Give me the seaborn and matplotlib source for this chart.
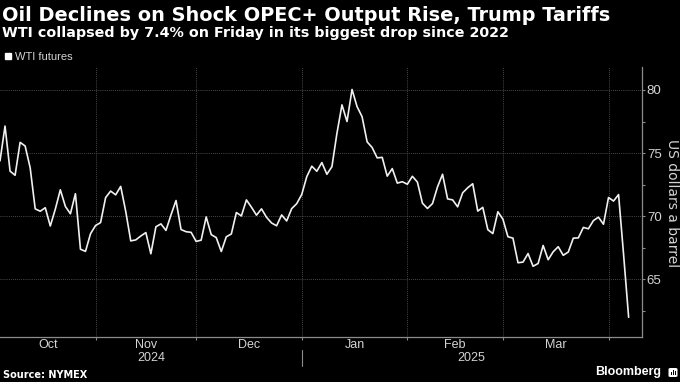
import numpy as np
import pandas as pd
import matplotlib
matplotlib.use('Agg')
import matplotlib.pyplot as plt
import matplotlib.transforms as mtransforms
from matplotlib.lines import Line2D
from matplotlib.patches import FancyBboxPatch, Rectangle
import seaborn as sns

# WTI front-month settlements, one point per trading day
dates = [
    '2024-10-04', '2024-10-07', '2024-10-08', '2024-10-09', '2024-10-10', '2024-10-11', '2024-10-14',
    '2024-10-15', '2024-10-16', '2024-10-17', '2024-10-18', '2024-10-21', '2024-10-22', '2024-10-23',
    '2024-10-24', '2024-10-25', '2024-10-28', '2024-10-29', '2024-10-30', '2024-10-31',
    '2024-11-01', '2024-11-04', '2024-11-05', '2024-11-06', '2024-11-07', '2024-11-08', '2024-11-11',
    '2024-11-12', '2024-11-13', '2024-11-14', '2024-11-15', '2024-11-18', '2024-11-19', '2024-11-20',
    '2024-11-21', '2024-11-22', '2024-11-25', '2024-11-26', '2024-11-27', '2024-11-29',
    '2024-12-02', '2024-12-03', '2024-12-04', '2024-12-05', '2024-12-06', '2024-12-09', '2024-12-10',
    '2024-12-11', '2024-12-12', '2024-12-13', '2024-12-16', '2024-12-17', '2024-12-18', '2024-12-19',
    '2024-12-20', '2024-12-23', '2024-12-24', '2024-12-26', '2024-12-27', '2024-12-30', '2024-12-31',
    '2025-01-02', '2025-01-03', '2025-01-06', '2025-01-07', '2025-01-08', '2025-01-09', '2025-01-10',
    '2025-01-13', '2025-01-14', '2025-01-15', '2025-01-16', '2025-01-17', '2025-01-21', '2025-01-22',
    '2025-01-23', '2025-01-24', '2025-01-27', '2025-01-28', '2025-01-29', '2025-01-30', '2025-01-31',
    '2025-02-03', '2025-02-04', '2025-02-05', '2025-02-06', '2025-02-07', '2025-02-10', '2025-02-11',
    '2025-02-12', '2025-02-13', '2025-02-14', '2025-02-18', '2025-02-19', '2025-02-20', '2025-02-21',
    '2025-02-24', '2025-02-25', '2025-02-26', '2025-02-27', '2025-02-28',
    '2025-03-03', '2025-03-04', '2025-03-05', '2025-03-06', '2025-03-07', '2025-03-10', '2025-03-11',
    '2025-03-12', '2025-03-13', '2025-03-14', '2025-03-17', '2025-03-18', '2025-03-19', '2025-03-20',
    '2025-03-21', '2025-03-24', '2025-03-25', '2025-03-26', '2025-03-27', '2025-03-28', '2025-03-31',
    '2025-04-01', '2025-04-02', '2025-04-03', '2025-04-04',
]
wti = [
    74.38, 77.14, 73.57, 73.24, 75.85, 75.56, 73.83,
    70.58, 70.39, 70.67, 69.22, 70.56, 72.09, 70.77,
    70.19, 71.78, 67.38, 67.21, 68.61, 69.26,
    69.49, 71.47, 71.99, 71.69, 72.36, 70.38, 68.04,
    68.12, 68.43, 68.70, 67.02, 69.16, 69.39, 68.87,
    70.10, 71.24, 68.94, 68.77, 68.72, 68.00,
    68.10, 69.94, 68.54, 68.30, 67.20, 68.37, 68.59,
    70.29, 70.02, 71.29, 70.71, 70.08, 70.58, 69.91,
    69.46, 69.24, 70.10, 69.62, 70.60, 70.99, 71.72,
    73.13, 73.96, 73.56, 74.25, 73.32, 73.92, 76.57,
    78.82, 77.50, 80.04, 78.68, 77.88, 75.89, 75.44,
    74.62, 74.66, 73.17, 73.77, 72.62, 72.73, 72.53,
    73.16, 72.70, 71.03, 70.61, 71.00, 72.32, 73.32,
    71.37, 71.29, 70.74, 71.85, 72.25, 72.57, 70.40,
    70.70, 68.93, 68.62, 70.35, 69.76,
    68.37, 68.26, 66.31, 66.36, 67.04, 66.03, 66.25,
    67.68, 66.55, 67.18, 67.58, 66.90, 67.16, 68.26,
    68.28, 69.11, 69.00, 69.65, 69.92, 69.36, 71.48,
    71.20, 71.71, 66.95, 61.99,
]
month_names = ['Oct', 'Nov', 'Dec', 'Jan', 'Feb', 'Mar']
year_names = ['2024', '2025']
y_ticks = [65, 70, 75, 80]

title = 'Oil Declines on Shock OPEC+ Output Rise, Trump Tariffs'
subtitle = 'WTI collapsed by 7.4% on Friday in its biggest drop since 2022'

sns.set_theme(style='dark', rc={'axes.facecolor': 'black', 'figure.facecolor': 'black',
                                'savefig.facecolor': 'black'})
plt.rcParams['font.family'] = ['DejaVu Sans']
NARROW = ['Liberation Sans', 'DejaVu Sans']
GREY = '#8c8c8c'
LABEL = '#d4d4d4'

df = pd.DataFrame({'date': pd.to_datetime(dates), 'price': wti})
df['idx'] = np.arange(len(df))

W, H = 680, 382
fig = plt.figure(figsize=(6.8, 3.82), dpi=100)
ax = fig.add_axes([0, 1 - 336.7 / H, 641.7 / W, (336.7 - 67) / H])

sns.lineplot(data=df, x='idx', y='price', color='#f0f0f0', lw=1.2, ax=ax)
ax.set_xlabel('')
ax.set_ylabel('')

xmax = 127.6
ax.set_xlim(0, xmax)
ax.set_ylim(60.45, 81.82)

# month boundaries sit on the last trading day of each month
month_end = df.groupby(df['date'].dt.to_period('M'))['idx'].max().values[:len(month_names)]
edges = np.concatenate([[0], month_end])

ax.set_xticks(month_end)
ax.set_xticklabels([])
ax.set_yticks(y_ticks)
ax.set_yticks([62.5, 67.5, 72.5, 77.5], minor=True)
ax.grid(True, which='major', color='#606060', ls=(0, (1, 1.5)), lw=0.6)

ax.yaxis.tick_right()
ax.tick_params(axis='y', which='both', right=True, left=False, labelright=True, labelleft=False,
               direction='out', length=2.2, width=0.8, color=GREY, pad=1.5,
               labelsize=9.5, labelcolor=LABEL)
ax.tick_params(axis='x', which='major', bottom=True, direction='out', length=2, width=0.8, color=GREY)
for lbl in ax.get_yticklabels():
    lbl.set_family(NARROW)

for side in ['top', 'left']:
    ax.spines[side].set_visible(False)
for side in ['right', 'bottom']:
    ax.spines[side].set_visible(True)
    ax.spines[side].set_color(GREY)
    ax.spines[side].set_linewidth(0.9)

# month and year labels under the axis
ax_h = 336.7 - 67
trans = mtransforms.blended_transform_factory(ax.transData, ax.transAxes)
for i, name in enumerate(month_names):
    ax.text((edges[i] + edges[i + 1]) / 2, -(345 - 336.7) / ax_h, name, transform=trans,
            ha='center', va='center', fontsize=9, color=LABEL, family=NARROW)
year_split = month_end[2]
for name, (a, b) in zip(year_names, [(0, year_split), (year_split, xmax)]):
    ax.text((a + b) / 2, -(358.3 - 336.7) / ax_h, name, transform=trans,
            ha='center', va='center', fontsize=9, color=LABEL, family=NARROW)
ax.add_line(Line2D([year_split, year_split], [-(350 - 336.7) / ax_h, -(366 - 336.7) / ax_h],
                   transform=trans, color=GREY, lw=0.8, clip_on=False))

fig.text(671.5 / W, 1 - 202.7 / H, 'US dollars a barrel', rotation=270, ha='center', va='center',
         fontsize=10, color=LABEL)

# legend
ax.legend(handles=[Line2D([], [], marker='s', ls='', color='white', markersize=5)],
          labels=['WTI futures'], loc='center left', bbox_to_anchor=(4.8 / W, 1 - 56.5 / H),
          bbox_transform=fig.transFigure, frameon=False, handlelength=0.6, handletextpad=0.3,
          borderpad=0, borderaxespad=0, prop={'family': NARROW, 'size': 8}, labelcolor=LABEL)

fig.text(2 / W, 1 - 20.7 / H, title, ha='left', va='baseline', fontsize=13.9,
         fontweight='bold', color='white')
fig.text(2 / W, 1 - 37.3 / H, subtitle, ha='left', va='baseline', fontsize=10.3,
         fontweight='bold', color='white')
fig.text(3 / W, 1 - 375 / H, 'Source: NYMEX', ha='left', va='center', fontsize=7,
         fontweight='bold', color='white')
fig.text(661 / W, 1 - 372 / H, 'Bloomberg', ha='right', va='center', fontsize=9,
         fontweight='bold', color='white', family=['Liberation Sans', 'DejaVu Sans'])
fig.patches.append(FancyBboxPatch((668.5 / W, 1 - 377 / H), 9 / W, 9 / H,
                                  boxstyle='round,pad=0,rounding_size=0.003',
                                  transform=fig.transFigure, facecolor='white', edgecolor='none'))
for bx, bh in [(670.5, 3), (672.8, 5), (675.1, 4)]:
    fig.patches.append(Rectangle((bx / W, 1 - 375 / H), 1.3 / W, bh / H,
                                 transform=fig.transFigure, facecolor='black', edgecolor='none'))

fig.savefig('out.png', dpi=100)
